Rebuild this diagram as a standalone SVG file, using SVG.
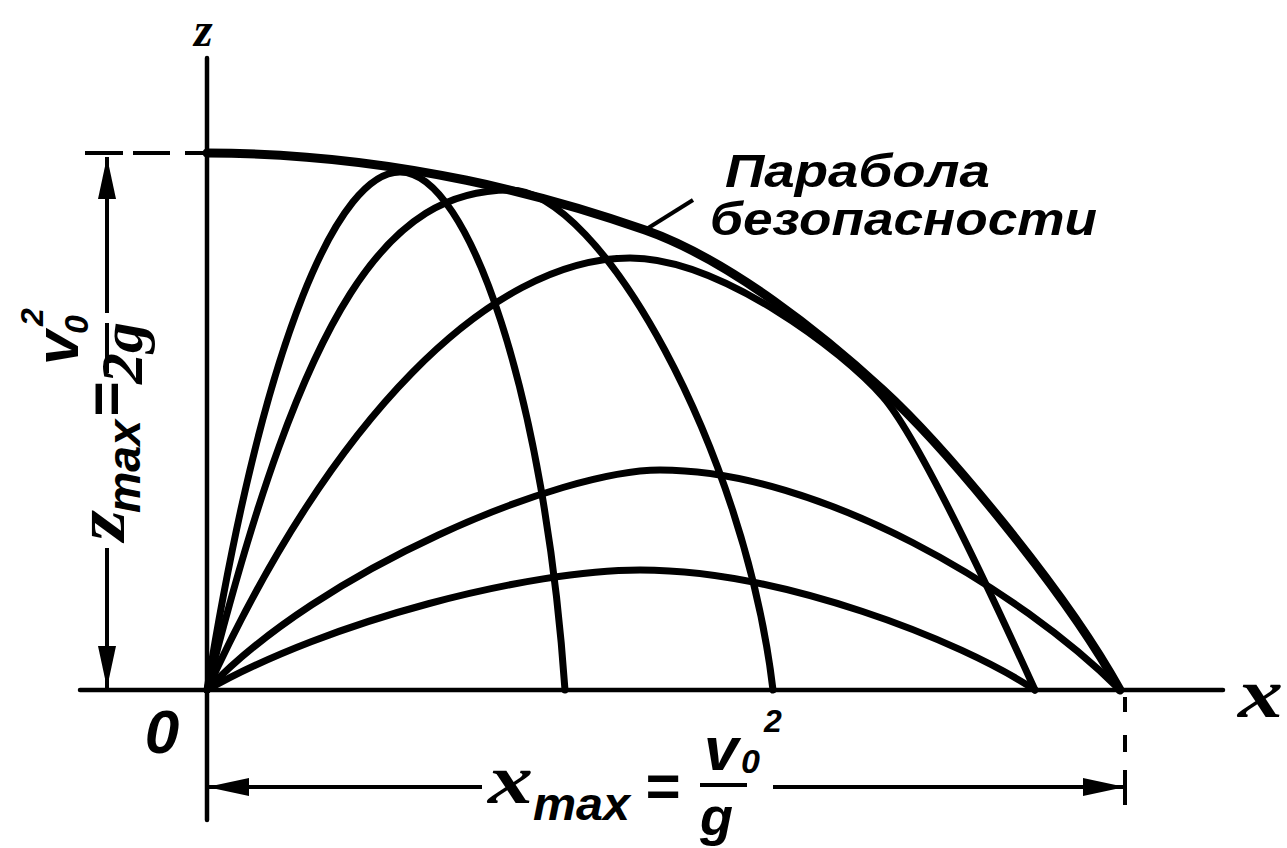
<svg xmlns="http://www.w3.org/2000/svg" width="1287" height="848" viewBox="0 0 1287 848">
<style>
.bg{fill:#fff}
.ax{stroke:#000;stroke-width:4.5;fill:none;stroke-linecap:round}
.dim{stroke:#000;stroke-width:4;fill:none}
.tr{stroke:#000;stroke-width:7;fill:none;stroke-linecap:round}
.env{stroke:#000;stroke-width:9;fill:none;stroke-linecap:round}
.ser{font-family:"Liberation Serif","DejaVu Serif",serif;font-style:italic;font-weight:bold;fill:#000}
.san{font-family:"Liberation Sans","DejaVu Sans",sans-serif;font-style:italic;font-weight:bold;fill:#000}
</style>
<defs>
<marker id="arr" markerUnits="userSpaceOnUse" markerWidth="42" markerHeight="20" viewBox="0 -10 42 20" refX="42" refY="0" orient="auto">
<path d="M0,-9 L42,0 L0,9 z" fill="#000"/>
</marker>
</defs>
<rect class="bg" x="0" y="0" width="1287" height="848"/>

<g id="axes">
<line class="ax" x1="207" y1="58" x2="207" y2="820"/>
<line class="ax" x1="80" y1="690" x2="1223" y2="690"/>
<text class="ser" x="194" y="46" font-size="48">z</text>
<text class="ser" x="1238" y="717" font-size="70" textLength="45" lengthAdjust="spacingAndGlyphs">x</text>
<text class="san" x="162" y="753" font-size="62" text-anchor="middle">0</text>
</g>

<g id="trajectories">
<path class="tr" d="M207,690 C265,330 340,172 400,172 C470,172 545,400 565,690"/>
<path class="tr" d="M207,690 C305,300 390,190 510,190 C600,190 745,450 773,690"/>
<path class="tr" d="M207,690 C330,420 490,258 630,258 C720,258 843,351 883,397 C923,443 1010,635 1035,690"/>
<path class="tr" d="M207,690 C320,570 560,470 660,470 C820,470 1020,590 1120,690"/>
<path class="tr" d="M207,690 C330,620 530,570 640,570 C780,570 960,640 1035,690"/>
</g>

<g id="envelope">
<path class="env" d="M207,153 C400,153 560,200 645,230 C730,260 823,335 883,390 C943,445 1065,590 1120,690"/>
<line class="dim" x1="645" y1="230" x2="693" y2="200" stroke-width="4.5"/>
<text class="san" x="725" y="187" font-size="46" textLength="265" lengthAdjust="spacingAndGlyphs">Парабола</text>
<text class="san" x="710" y="235" font-size="46" textLength="387" lengthAdjust="spacingAndGlyphs">безопасности</text>
</g>

<g id="zmax-dimension">
<path class="dim" d="M85,153 H123 M133,153 H170 M185,153 H207"/>
<line class="dim" x1="107" y1="313" x2="107" y2="157" marker-end="url(#arr)"/>
<line class="dim" x1="107" y1="548" x2="107" y2="688" marker-end="url(#arr)"/>
<text class="ser" font-size="70" transform="translate(124,541) rotate(-90)" textLength="31" lengthAdjust="spacingAndGlyphs">z</text>
<text class="san" font-size="46" transform="translate(140,513) rotate(-90)" textLength="93" lengthAdjust="spacingAndGlyphs">max</text>
<text class="san" font-size="60" text-anchor="middle" transform="translate(126,400) rotate(-90)">=</text>
<line class="dim" x1="107" y1="323" x2="107" y2="373"/>
<text class="san" font-size="62" transform="translate(78,365) rotate(-90)">v</text>
<text class="san" font-size="34" transform="translate(88,334) rotate(-90)">0</text>
<text class="san" font-size="32" transform="translate(43,326) rotate(-90)">2</text>
<text class="ser" font-size="60" transform="translate(142,384) rotate(-90)" textLength="62" lengthAdjust="spacingAndGlyphs">2g</text>
</g>

<g id="xmax-dimension">
<line class="dim" x1="482" y1="787" x2="207" y2="787" marker-end="url(#arr)"/>
<line class="dim" x1="773" y1="787" x2="1125" y2="787" marker-end="url(#arr)"/>
<path class="dim" d="M1125,697 V712 M1125,735 V752 M1125,770 V805"/>
<text class="ser" x="488" y="803" font-size="70" textLength="45" lengthAdjust="spacingAndGlyphs">x</text>
<text class="san" x="533" y="820" font-size="46" textLength="97" lengthAdjust="spacingAndGlyphs">max</text>
<text class="san" x="662" y="806" font-size="60" text-anchor="middle">=</text>
<line class="dim" x1="700" y1="785" x2="747" y2="785"/>
<text class="san" x="704" y="770" font-size="62">v</text>
<text class="san" x="741" y="773" font-size="34">0</text>
<text class="san" x="764" y="732" font-size="32">2</text>
<text class="san" x="700" y="835" font-size="54">g</text>
</g>
</svg>
